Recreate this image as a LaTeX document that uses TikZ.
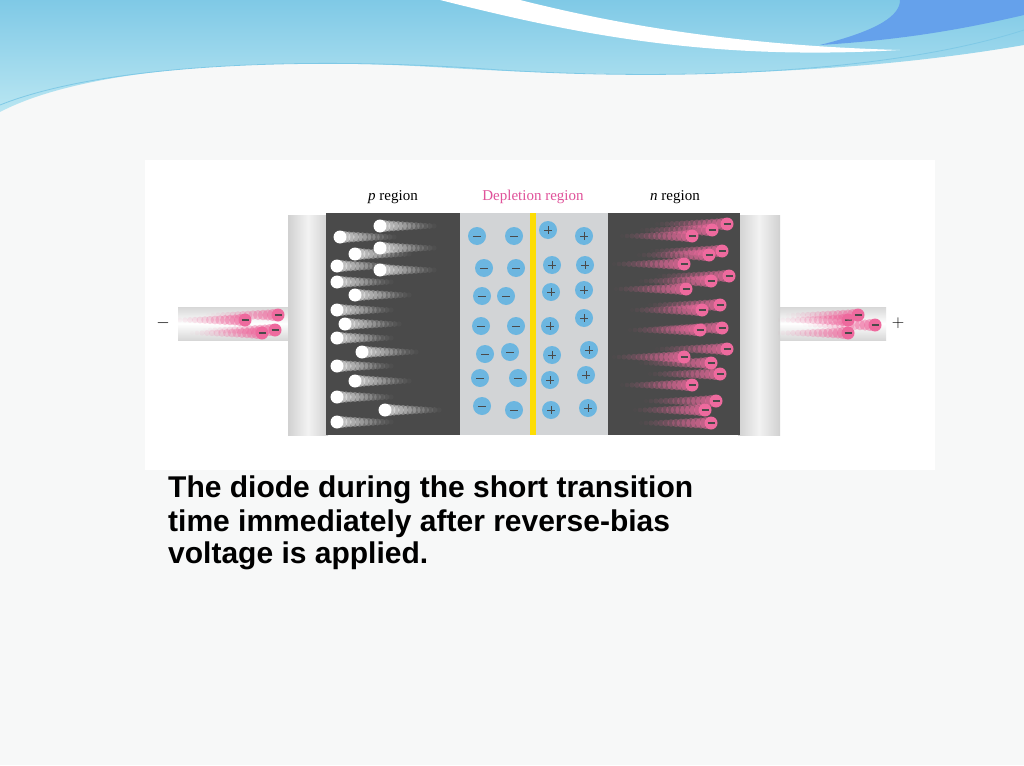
\documentclass[tikz,border=0pt]{standalone}
\usepackage{fontspec}
\setmainfont{Liberation Serif}
\newfontfamily\capfont{Liberation Sans}
\definecolor{bg}{HTML}{F7F8F8}
\definecolor{dark}{HTML}{4A4A4A}
\definecolor{light}{HTML}{D2D4D6}
\definecolor{ion}{HTML}{6CB6E0}
\definecolor{elec}{HTML}{EE6A9E}
\definecolor{pinklab}{HTML}{E0529A}
\definecolor{wire}{HTML}{BDBDBD}
\definecolor{band1}{HTML}{7FC9E6}
\definecolor{band2}{HTML}{B9E6F2}
\newcommand\holeat[2]{%
  \foreach \i in {1,...,12}{\fill[white,opacity={0.45-0.035*\i}] ({#1+4.5*\i},#2) circle ({6.2-0.3*\i});}
  \fill[white] (#1,#2) circle (6.5);}
\newcommand\elecat[2]{%
  \foreach \i in {1,...,14}{\fill[elec,opacity={0.55-0.038*\i}] ({#1-5*\i},#2) circle ({6.2-0.3*\i});}
  \fill[elec] (#1,#2) circle (6.5);
  \draw[dark,line width=1.2pt] ({#1-3.5},#2) -- ({#1+3.5},#2);}
\newcommand\minusion[2]{\fill[ion] (#1,#2) circle (9);\draw[dark,line width=1pt] ({#1-4},#2)--({#1+4},#2);}
\newcommand\plusion[2]{\fill[ion] (#1,#2) circle (9);\draw[dark,line width=1pt] ({#1-4},#2)--({#1+4},#2) ({#1},{#2-4})--({#1},{#2+4});}
\begin{document}
\begin{tikzpicture}[x=1pt,y=-1pt,
  captext/.style={font=\capfont\bfseries\fontsize{30}{33}\selectfont,anchor=base west,inner sep=0},
  lab/.style={font=\fontsize{15}{17}\selectfont,inner sep=0}]
\useasboundingbox (0,0) rectangle (1024,765);
\fill[bg] (0,0) rectangle (1024,765);
% banner
\shade[top color=band1,bottom color=band2] (0,0) -- (1024,0) -- (1024,45) .. controls (850,75) and (650,80) .. (450,68) .. controls (250,55) and (80,70) .. (0,112) -- cycle;
\fill[white] (440,0) .. controls (560,30) and (700,62) .. (900,50) .. controls (720,45) and (600,20) .. (520,0) -- cycle;
\fill[band1!80!blue] (900,0) -- (1024,0) -- (1024,15) .. controls (960,30) and (900,40) .. (820,45) .. controls (880,30) and (900,15) .. cycle;
\draw[band1,line width=0.8pt] (0,105) .. controls (100,65) and (300,55) .. (500,70) .. controls (700,82) and (900,70) .. (1024,30);
% panel
\fill[white] (145,160) rectangle (935,470);
% wires
\shade[top color=wire!60,bottom color=wire!60,middle color=white] (178,307) rectangle (290,340);
\shade[top color=wire!60,bottom color=wire!60,middle color=white] (778,307) rectangle (886,340);
% caps
\shade[left color=wire!70,right color=wire!70,middle color=white!90!gray] (288,215) rectangle (328,435);
\shade[left color=wire!70,right color=wire!70,middle color=white!90!gray] (738,215) rectangle (780,435);
% regions
\fill[dark] (326,213) rectangle (460,435);
\fill[light] (460,213) rectangle (608,435);
\fill[dark] (608,213) rectangle (740,435);
\fill[yellow!80!orange] (530,213) rectangle (536,435);
% labels
\node[lab] (lp) at (393,197) {\textit{p} region};
\node[lab,text=pinklab] (ld) at (533,197) {Depletion region};
\node[lab] (ln) at (675,197) {\textit{n} region};
\node[font=\fontsize{18}{20}\selectfont] (mn) at (163,323) {$-$};
\node[font=\fontsize{18}{20}\selectfont] (pl) at (898,323) {$+$};
% holes
\foreach \x/\y in {340/237,380/226,355/254,380/248,337/266,380/270,337/282,355/295,337/310,345/324,337/338,362/352,337/366,355/381,337/397,385/410,337/422}{\holeat{\x}{\y}}
% ions
\foreach \x/\y in {477/236,514/236,484/268,516/268,482/296,506/296,481/326,516/326,485/354,510/352,480/378,518/378,482/406,514/410}{\minusion{\x}{\y}}
\foreach \x/\y in {548/230,584/236,552/265,585/265,551/292,584/290,550/326,584/318,552/355,589/350,550/380,586/375,551/410,588/408}{\plusion{\x}{\y}}
% electrons
\begin{scope}
\clip (608,213) rectangle (740,435);
\foreach \x/\y in {727/224,712/230,692/236,722/251,709/255,684/264,729/276,711/281,686/289,720/305,702/310,722/328,700/330,727/349,684/357,711/363,720/374,692/385,716/401,705/410,711/423}{\elecat{\x}{\y}}
\end{scope}
\begin{scope}
\clip (178,307) rectangle (290,340);
\foreach \x/\y in {245/320,278/315,275/330,262/333}{\elecat{\x}{\y}}
\end{scope}
\begin{scope}
\clip (778,307) rectangle (886,340);
\foreach \x/\y in {848/320,858/315,875/325,848/333}{\elecat{\x}{\y}}
\end{scope}
% caption
\node[captext] (c1) at (168,497) {The diode during the short transition};
\node[captext] (c2) at (168,531) {time immediately after reverse-bias};
\node[captext] (c3) at (168,563) {voltage is applied.};
\end{tikzpicture}
\end{document}
